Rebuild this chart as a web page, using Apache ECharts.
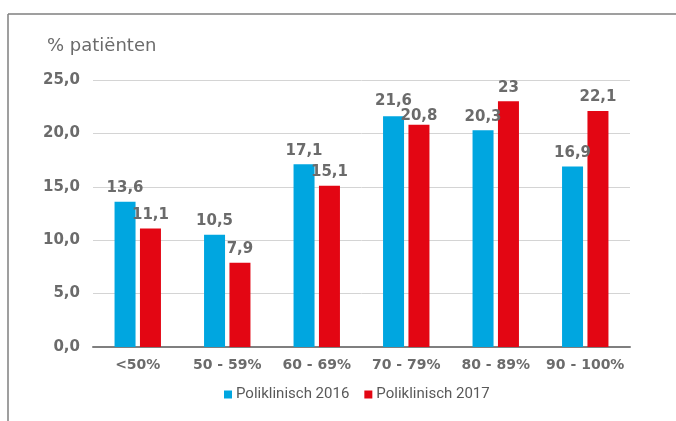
<!DOCTYPE html>
<html><head><meta charset="utf-8">
<script src="https://cdn.jsdelivr.net/npm/echarts@6/dist/echarts.min.js"></script>
<style>html,body{margin:0;padding:0;background:#fff}#c{width:676px;height:421px}</style>
</head><body><div id="c"></div>
<script>
const categories = ['<50%', '50 - 59%', '60 - 69%', '70 - 79%', '80 - 89%', '90 - 100%'];
const series2016 = [13.6, 10.5, 17.1, 21.6, 20.3, 16.9];
const series2017 = [11.1, 7.9, 15.1, 20.8, 23, 22.1];
const yTicks = {min: 0, max: 25, interval: 5};
const fmt = v => String(v).replace('.', ',');
const chart = echarts.init(document.getElementById('c'));
const labelStyle = {show: true, position: 'top', distance: 6, color: '#6b6b6b', fontFamily: 'DejaVu Sans', fontWeight: 'bold', fontSize: 15, formatter: p => fmt(p.value)};
// in the reference, two crowded labels in the 70-79% group are nudged apart
const data2016 = series2016.map((v, i) => i === 3 ? {value: v, label: {distance: 8}} : v);
const data2017 = series2017.map((v, i) => i === 3 ? {value: v, label: {distance: 1}} : v);
chart.setOption({
  animation: false,
  textStyle: {fontFamily: 'DejaVu Sans'},
  graphic: [
    {type: 'line', shape: {x1: 8, y1: 14, x2: 676, y2: 14}, style: {stroke: '#7f7f7f', lineWidth: 1.5}},
    {type: 'line', shape: {x1: 8, y1: 14, x2: 8, y2: 421}, style: {stroke: '#7f7f7f', lineWidth: 1.5}},
    {type: 'text', left: 47, top: 37, style: {text: '% patiënten', fill: '#6b6b6b', font: 'normal 18px "DejaVu Sans"'}}
  ],
  grid: {left: 93, right: 46, top: 80, bottom: 74},
  legend: {
    top: 387, left: 224, padding: 0, itemWidth: 8, itemHeight: 8, itemGap: 15,
    icon: 'rect',
    textStyle: {color: '#595959', fontSize: 15, fontFamily: 'Roboto', padding: [0, 0, 0, -1]},
    data: ['Poliklinisch 2016', 'Poliklinisch 2017']
  },
  xAxis: {
    type: 'category', data: categories,
    axisLine: {lineStyle: {color: '#7f7f7f', width: 2}},
    axisTick: {show: false},
    axisLabel: {interval: 0, color: '#6b6b6b', fontFamily: 'DejaVu Sans', fontWeight: 'bold', fontSize: 14, margin: 11}
  },
  yAxis: {
    type: 'value', min: yTicks.min, max: yTicks.max, interval: yTicks.interval,
    axisLine: {show: false}, axisTick: {show: false},
    splitLine: {lineStyle: {color: '#d4d4d4', width: 1}},
    axisLabel: {color: '#6b6b6b', fontFamily: 'DejaVu Sans', fontWeight: 'bold', fontSize: 15, margin: 13, formatter: v => v.toFixed(1).replace('.', ',')}
  },
  series: [
    {name: 'Poliklinisch 2016', type: 'bar', data: data2016, barWidth: 21, barGap: '21%', itemStyle: {color: '#00a6e0'}, label: labelStyle},
    {name: 'Poliklinisch 2017', type: 'bar', data: data2017, barWidth: 21, barGap: '21%', itemStyle: {color: '#e30613'}, label: labelStyle}
  ]
});
</script></body></html>
